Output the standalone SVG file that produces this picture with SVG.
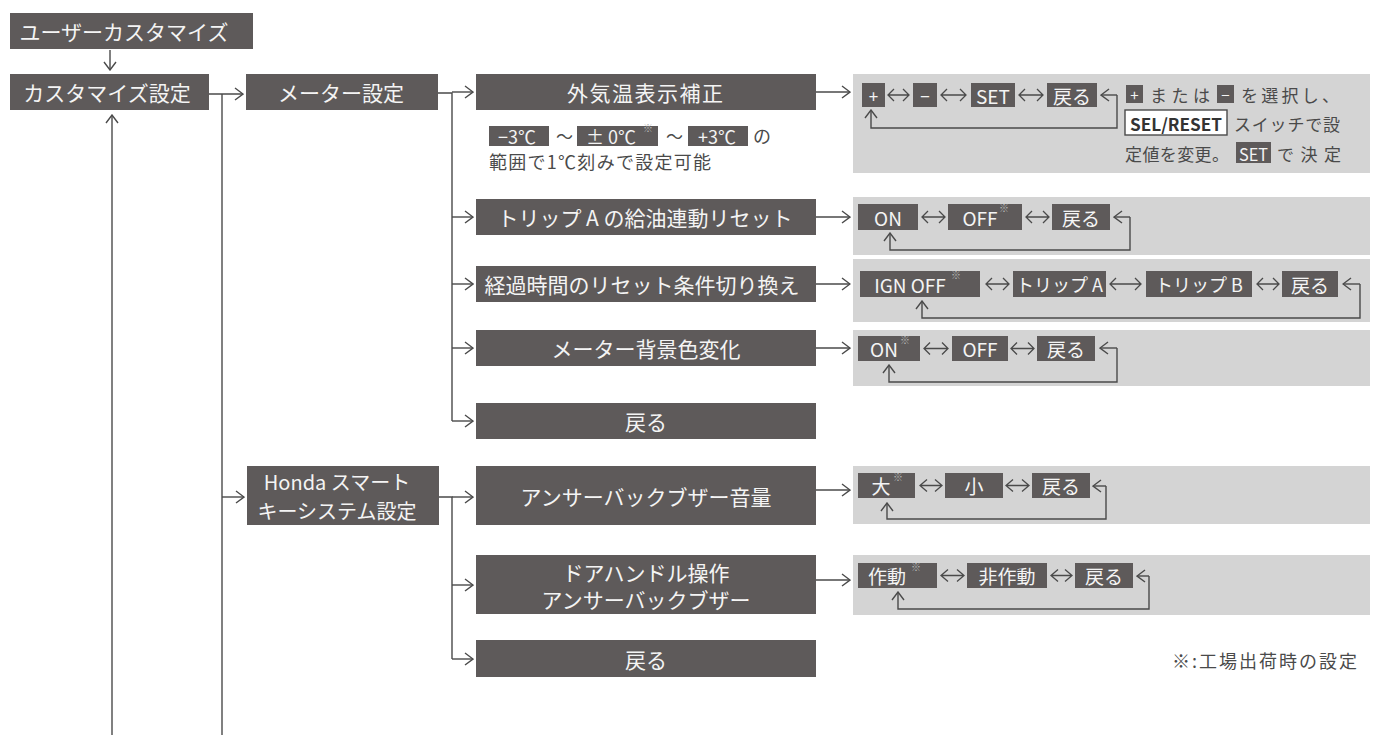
<svg xmlns="http://www.w3.org/2000/svg" width="1376" height="742" viewBox="0 0 1376 742">
<style>
.n{fill:#5e5a5a}
.p{fill:#d4d4d4}
.b{fill:#5e5a5a}
.t{font-family:"Noto Sans CJK JP","Noto Sans",sans-serif;fill:#f4f4f4;font-size:21px;dominant-baseline:central;text-anchor:middle}
.bt{font-family:"Noto Sans CJK JP","Noto Sans",sans-serif;fill:#f4f4f4;font-size:19px;dominant-baseline:central;text-anchor:middle}
.dt{font-family:"Noto Sans CJK JP","Noto Sans",sans-serif;fill:#4a4a4a;font-size:17px;dominant-baseline:central}
.sup{font-family:"Noto Sans CJK JP","Noto Sans",sans-serif;fill:#b8b8b8;font-size:10px}
.c{fill:none;stroke:#4a4a4a;stroke-width:1.4}
.a{fill:none;stroke:#4a4a4a;stroke-width:1.4;marker-end:url(#ah)}
.d{fill:none;stroke:#4a4a4a;stroke-width:1.3}
</style>
<defs>
<marker id="ah" viewBox="0 0 10 14" refX="9" refY="7" markerWidth="10" markerHeight="14" markerUnits="userSpaceOnUse" orient="auto">
<path d="M1,1 L9,7 L1,13" fill="none" stroke="#4a4a4a" stroke-width="1.4"/>
</marker>
</defs>
<rect width="1376" height="742" fill="#ffffff"/>

<g id="connectors">
<path class="a" d="M110,50 V70"/>
<path class="a" d="M112,735 V115"/>
<path class="a" d="M209,94 H243"/>
<path class="c" d="M222,94 V735"/>
<path class="c" d="M438,93 H452 V421"/>
<path class="a" d="M452,92 H473"/>
<path class="a" d="M452,217 H473"/>
<path class="a" d="M452,284 H473"/>
<path class="a" d="M452,348 H473"/>
<path class="a" d="M452,421 H473"/>
<path class="a" d="M222,497 H244"/>
<path class="c" d="M439,497 H452 V659"/>
<path class="a" d="M452,497 H473"/>
<path class="a" d="M452,585 H473"/>
<path class="a" d="M452,659 H473"/>
<path class="a" d="M816,92 H850"/>
<path class="a" d="M816,217 H850"/>
<path class="a" d="M816,284 H850"/>
<path class="a" d="M816,348 H850"/>
<path class="a" d="M816,490 H850"/>
<path class="a" d="M816,580 H850"/>
</g>

<g id="n-user"><rect class="n" x="10" y="13" width="243" height="36"/><text class="t" x="124" y="31">ユーザーカスタマイズ</text></g>
<g id="n-custom"><rect class="n" x="10" y="74" width="199" height="36"/><text class="t" x="107" y="92">カスタマイズ設定</text></g>
<g id="n-meter"><rect class="n" x="246" y="74" width="192" height="36"/><text class="t" x="341" y="92">メーター設定</text></g>
<g id="n-honda"><rect class="n" x="247" y="466" width="192" height="59"/><text class="t" x="337" y="481" style="font-size:20px">Honda スマート</text><text class="t" x="337" y="510" style="font-size:20px">キーシステム設定</text></g>

<g id="n-temp"><rect class="n" x="476" y="74" width="340" height="36"/><text class="t" x="645" y="92" textLength="156" lengthAdjust="spacing">外気温表示補正</text></g>
<g id="n-temp-note">
<rect class="b" x="489" y="126" width="60" height="20"/><text class="bt" x="517" y="136" style="font-size:18px">−3℃</text>
<text class="dt" x="556" y="135">〜</text>
<rect class="b" x="577" y="126" width="81" height="20"/><text class="bt" x="611" y="136" style="font-size:18px">± 0℃</text><text class="sup" x="643" y="132">※</text>
<text class="dt" x="666" y="135">〜</text>
<rect class="b" x="688" y="126" width="60" height="20"/><text class="bt" x="717" y="136" style="font-size:18px">+3℃</text>
<text class="dt" x="753" y="135" style="font-size:18px">の</text>
<text class="dt" x="489" y="161" style="font-size:18px" textLength="222" lengthAdjust="spacing">範囲で1℃刻みで設定可能</text>
</g>
<g id="n-trip"><rect class="n" x="476" y="199" width="340" height="36"/><text class="t" x="645" y="217">トリップ A の給油連動リセット</text></g>
<g id="n-elapsed"><rect class="n" x="476" y="266" width="340" height="36"/><text class="t" x="642" y="284">経過時間のリセット条件切り換え</text></g>
<g id="n-bg"><rect class="n" x="476" y="330" width="340" height="36"/><text class="t" x="646" y="348">メーター背景色変化</text></g>
<g id="n-back1"><rect class="n" x="476" y="403" width="340" height="36"/><text class="t" x="646" y="421">戻る</text></g>
<g id="n-vol"><rect class="n" x="476" y="466" width="340" height="59"/><text class="t" x="646" y="496">アンサーバックブザー音量</text></g>
<g id="n-door"><rect class="n" x="476" y="555" width="340" height="59"/><text class="t" x="646" y="572">ドアハンドル操作</text><text class="t" x="646" y="599">アンサーバックブザー</text></g>
<g id="n-back2"><rect class="n" x="476" y="640" width="340" height="37"/><text class="t" x="646" y="659">戻る</text></g>

<g id="p1">
<rect class="p" x="853" y="74" width="517" height="99"/>
<rect class="b" x="862" y="83" width="23" height="24"/><text class="bt" x="873.5" y="95" style="font-size:17px">+</text>
<path class="d" d="M894,89 L888,95 L894,101 M888,95 H909 M903,89 L909,95 L903,101"/>
<rect class="b" x="913" y="83" width="24" height="24"/><text class="bt" x="925" y="95" style="font-size:17px">−</text>
<path class="d" d="M947,89 L941,95 L947,101 M941,95 H966 M960,89 L966,95 L960,101"/>
<rect class="b" x="971" y="83" width="44" height="24"/><text class="bt" x="993" y="95">SET</text>
<path class="d" d="M1025,89 L1019,95 L1025,101 M1019,95 H1043 M1037,89 L1043,95 L1037,101"/>
<rect class="b" x="1047" y="83" width="50" height="24"/><text class="bt" x="1072" y="95">戻る</text>
<path class="a" d="M1117,95 H1101"/>
<path class="a" d="M1117,95 V128 H871 V110"/>
<rect class="b" x="1126" y="85" width="17" height="18"/><text class="bt" x="1134.5" y="94" style="font-size:15px">+</text>
<text class="dt" x="1150" y="94" textLength="60" lengthAdjust="spacing">または</text>
<rect class="b" x="1217" y="85" width="17" height="18"/><text class="bt" x="1225.5" y="94" style="font-size:15px">−</text>
<text class="dt" x="1241" y="94" textLength="98" lengthAdjust="spacing">を選択し、</text>
<rect x="1125" y="110" width="102" height="25" fill="#ffffff" stroke="#4a4a4a" stroke-width="1.4"/>
<text class="dt" x="1176" y="123" style="text-anchor:middle;font-weight:bold;fill:#333" textLength="92" lengthAdjust="spacingAndGlyphs">SEL/RESET</text>
<text class="dt" x="1234" y="123" textLength="106" lengthAdjust="spacing">スイッチで設</text>
<text class="dt" x="1125" y="153" textLength="104" lengthAdjust="spacing">定値を変更。</text>
<rect class="b" x="1236" y="142" width="35" height="21"/><text class="bt" x="1253.5" y="153" style="font-size:17px" textLength="29" lengthAdjust="spacingAndGlyphs">SET</text>
<text class="dt" x="1277" y="153" textLength="64" lengthAdjust="spacing">で決定</text>
</g>

<g id="p2">
<rect class="p" x="853" y="197" width="517" height="58"/>
<rect class="b" x="858" y="204" width="60" height="26"/><text class="bt" x="888" y="217">ON</text>
<path class="d" d="M928,211 L922,217 L928,223 M922,217 H945 M939,211 L945,217 L939,223"/>
<rect class="b" x="948" y="204" width="74" height="26"/><text class="bt" x="980" y="217">OFF</text><text class="sup" x="999" y="212">※</text>
<path class="d" d="M1032,211 L1026,217 L1032,223 M1026,217 H1049 M1043,211 L1049,217 L1043,223"/>
<rect class="b" x="1052" y="204" width="58" height="26"/><text class="bt" x="1081" y="217">戻る</text>
<path class="a" d="M1130,217 H1114"/>
<path class="a" d="M1130,217 V250 H890 V233"/>
</g>

<g id="p3">
<rect class="p" x="853" y="259" width="517" height="63"/>
<rect class="b" x="860" y="271" width="120" height="26"/><text class="bt" x="910" y="284">IGN OFF</text><text class="sup" x="951" y="279">※</text>
<path class="d" d="M992,278 L986,284 L992,290 M986,284 H1009 M1003,278 L1009,284 L1003,290"/>
<rect class="b" x="1013" y="271" width="93" height="26"/><text class="bt" x="1059.5" y="284" style="font-size:18px">トリップ A</text>
<path class="d" d="M1116,278 L1110,284 L1116,290 M1110,284 H1141 M1135,278 L1141,284 L1135,290"/>
<rect class="b" x="1146" y="271" width="106" height="26"/><text class="bt" x="1199" y="284" style="font-size:18px">トリップ B</text>
<path class="d" d="M1263,278 L1257,284 L1263,290 M1257,284 H1279 M1273,278 L1279,284 L1273,290"/>
<rect class="b" x="1282" y="271" width="56" height="26"/><text class="bt" x="1310" y="284">戻る</text>
<path class="a" d="M1360,284 H1343"/>
<path class="a" d="M1360,284 V318 H922 V301"/>
</g>

<g id="p4">
<rect class="p" x="853" y="330" width="517" height="56"/>
<rect class="b" x="858" y="336" width="62" height="25"/><text class="bt" x="884" y="348.5">ON</text><text class="sup" x="900" y="344">※</text>
<path class="d" d="M930,342.5 L924,348.5 L930,354.5 M924,348.5 H948 M942,342.5 L948,348.5 L942,354.5"/>
<rect class="b" x="952" y="336" width="56" height="25"/><text class="bt" x="980" y="348.5">OFF</text>
<path class="d" d="M1017,342.5 L1011,348.5 L1017,354.5 M1011,348.5 H1034 M1028,342.5 L1034,348.5 L1028,354.5"/>
<rect class="b" x="1037" y="336" width="58" height="25"/><text class="bt" x="1066" y="348.5">戻る</text>
<path class="a" d="M1117,348 H1100"/>
<path class="a" d="M1117,348 V382 H889 V365"/>
</g>

<g id="p5">
<rect class="p" x="853" y="466" width="517" height="58"/>
<rect class="b" x="858" y="473" width="57" height="25"/><text class="bt" x="881" y="485.5">大</text><text class="sup" x="893" y="481">※</text>
<path class="d" d="M927,479.5 L920,485.5 L927,491.5 M920,485.5 H942 M935,479.5 L942,485.5 L935,491.5"/>
<rect class="b" x="945" y="473" width="58" height="25"/><text class="bt" x="974" y="485.5">小</text>
<path class="d" d="M1013,479.5 L1006,485.5 L1013,491.5 M1006,485.5 H1029 M1022,479.5 L1029,485.5 L1022,491.5"/>
<rect class="b" x="1032" y="473" width="58" height="25"/><text class="bt" x="1061" y="485.5">戻る</text>
<path class="a" d="M1106,486 H1093"/>
<path class="a" d="M1106,486 V519 H887 V503"/>
</g>

<g id="p6">
<rect class="p" x="853" y="555" width="517" height="60"/>
<rect class="b" x="858" y="563" width="79" height="25"/><text class="bt" x="887" y="575.5">作動</text><text class="sup" x="911" y="571">※</text>
<path class="d" d="M948,569.5 L941,575.5 L948,581.5 M941,575.5 H964 M957,569.5 L964,575.5 L957,581.5"/>
<rect class="b" x="967" y="563" width="80" height="25"/><text class="bt" x="1007" y="575.5">非作動</text>
<path class="d" d="M1058,569.5 L1051,575.5 L1058,581.5 M1051,575.5 H1072 M1065,569.5 L1072,575.5 L1065,581.5"/>
<rect class="b" x="1075" y="563" width="58" height="25"/><text class="bt" x="1104" y="575.5">戻る</text>
<path class="a" d="M1149,576 H1137"/>
<path class="a" d="M1149,576 V609 H898 V592"/>
</g>

<g id="footnote"><text class="dt" x="1172" y="660" style="font-size:18px" textLength="185" lengthAdjust="spacing">※:工場出荷時の設定</text></g>
</svg>
